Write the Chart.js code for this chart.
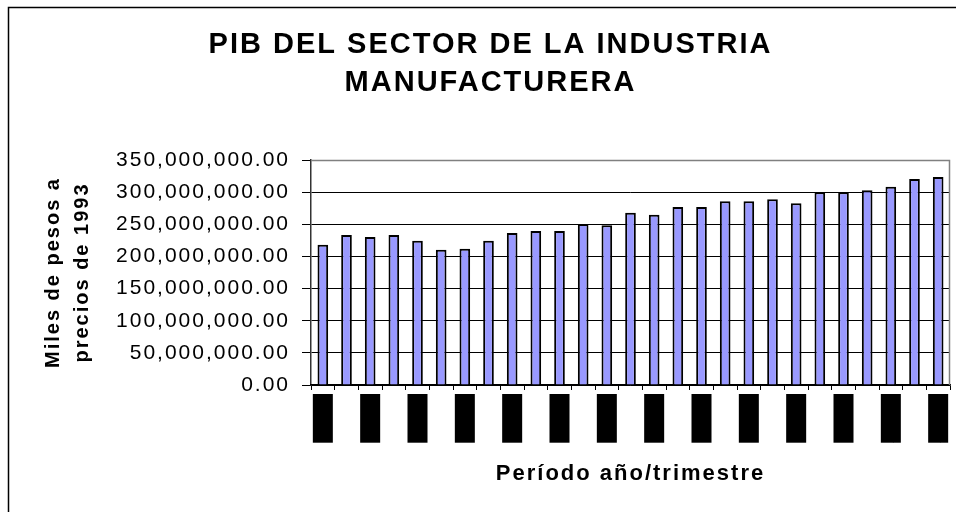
<!DOCTYPE html>
<html><head><meta charset="utf-8">
<script src="https://cdn.jsdelivr.net/npm/chart.js@4/dist/chart.umd.min.js"></script>
<style>html,body{margin:0;padding:0;background:#fff}canvas{display:block}</style>
</head><body>
<canvas id="c" width="956" height="512" style="width:956px;height:512px"></canvas>
<script>
const categories = ['1994/1','1994/2','1994/3','1994/4','1995/1','1995/2','1995/3','1995/4',
  '1996/1','1996/2','1996/3','1996/4','1997/1','1997/2','1997/3','1997/4',
  '1998/1','1998/2','1998/3','1998/4','1999/1','1999/2','1999/3','1999/4',
  '2000/1','2000/2','2000/3'];
const pibValues = [218000000,233400000,230200000,233400000,224500000,210500000,212000000,224500000,
  236500000,239600000,239600000,250500000,248400000,268000000,265000000,277000000,
  277000000,285800000,285800000,288900000,282700000,299800000,299800000,302900000,
  308500000,320500000,323600000];
const yTickValues = [0,50000000,100000000,150000000,200000000,250000000,300000000,350000000];
const chartTitle = ['PIB DEL SECTOR DE LA INDUSTRIA','MANUFACTURERA'];
const yAxisTitle = ['Miles de pesos a','precios de 1993'];
const xAxisTitle = 'Período año/trimestre';

const FONT = 'Liberation Sans';
const spacingPlugin = {
  id: 'spacing',
  beforeUpdate(c){ c.ctx.letterSpacing = '2px'; },
  beforeLayout(c){ c.ctx.letterSpacing = '2px'; },
  beforeDraw(c){ c.ctx.letterSpacing = '2px'; }
};
const framePlugin = {
  id: 'frame',
  afterDraw(c){
    const ctx = c.ctx, a = c.chartArea;
    ctx.save();
    ctx.letterSpacing = '0px';
    ctx.strokeStyle = '#808080';
    ctx.lineWidth = 1.5;
    ctx.beginPath();
    ctx.moveTo(a.left, a.top + 0.5);
    ctx.lineTo(a.right - 0.5, a.top + 0.5);
    ctx.lineTo(a.right - 0.5, a.bottom);
    ctx.stroke();
    ctx.strokeStyle = '#000';
    ctx.lineWidth = 1.5;
    ctx.beginPath();
    ctx.moveTo(8.5, 512);
    ctx.lineTo(8.5, 7.5);
    ctx.lineTo(956, 7.5);
    ctx.stroke();
    ctx.restore();
  }
};

new Chart(document.getElementById('c'), {
  type: 'bar',
  data: {
    labels: categories,
    datasets: [{
      data: pibValues,
      backgroundColor: '#9999FF',
      borderColor: '#000',
      borderWidth: 2,
      barPercentage: 0.45,
      categoryPercentage: 1
    }]
  },
  plugins: [spacingPlugin, framePlugin],
  options: {
    responsive: false,
    animation: false,
    layout: { padding: { left: 31, right: 6, top: 0, bottom: 0 } },
    plugins: {
      legend: { display: false },
      tooltip: { enabled: false },
      title: {
        display: true,
        text: chartTitle,
        color: '#000',
        font: { family: FONT, size: 29, weight: 'bold', lineHeight: 1.29 },
        padding: { top: 26.6, bottom: 58.6 }
      }
    },
    scales: {
      y: {
        min: 0,
        max: 350000000,
        afterBuildTicks(s){ s.ticks = yTickValues.map(v => ({ value: v })); },
        afterFit(s){ s.width = 311 - 31; },
        ticks: {
          color: '#000',
          padding: 12,
          font: { family: FONT, size: 21 },
          callback: v => Number(v).toLocaleString('en-US', { minimumFractionDigits: 2, maximumFractionDigits: 2 })
        },
        grid: { color: '#000', lineWidth: 1, tickLength: 9, drawTicks: true },
        border: { color: '#333', width: 1.5 },
        title: {
          display: true,
          text: yAxisTitle,
          color: '#000',
          font: { family: FONT, size: 20, weight: 'bold', lineHeight: 1.45 },
          padding: { top: 7.6, bottom: 0 }
        }
      },
      x: {
        offset: true,
        afterFit(s){ s.height = 127; },
        grid: { display: true, drawOnChartArea: false, drawTicks: true, tickLength: 5, color: '#000', offset: true },
        border: { color: '#000', width: 1.5 },
        ticks: {
          autoSkip: false,
          minRotation: 90,
          maxRotation: 90,
          padding: 4,
          color: '#000',
          font: { family: FONT, size: 12, lineHeight: 0 },
          showLabelBackdrop: true,
          backdropColor: '#000',
          backdropPadding: { top: 10, bottom: 10, left: 0, right: 0 },
          callback(v, i){ return i % 2 === 0 ? this.getLabelForValue(v) : ''; }
        },
        title: {
          display: true,
          text: xAxisTitle,
          color: '#000',
          font: { family: FONT, size: 22, weight: 'bold', lineHeight: 1.2 },
          padding: { top: 0, bottom: 24.8 }
        }
      }
    }
  }
});
</script>
</body></html>
